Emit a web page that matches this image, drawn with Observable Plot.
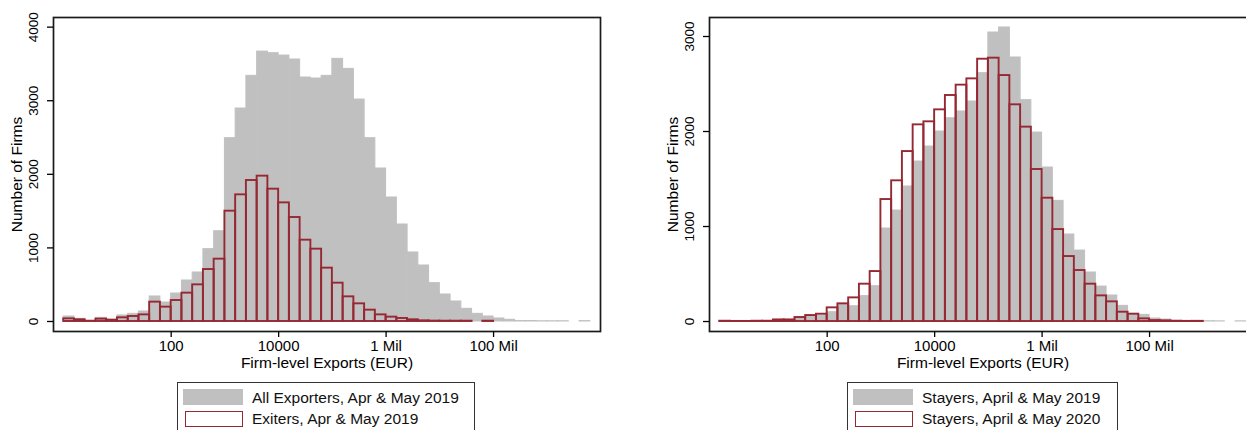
<!DOCTYPE html>
<html>
<head>
<meta charset="utf-8">
<script src="https://cdn.jsdelivr.net/npm/d3@7"></script>
<script src="https://cdn.jsdelivr.net/npm/@observablehq/plot@0.6"></script>
<style>
  html, body { margin: 0; padding: 0; background: #fff; overflow: hidden; width: 1246px; height: 430px; }
  #wrap { position: relative; width: 1246px; height: 430px; overflow: hidden; font-family: "Liberation Sans", Arial, sans-serif; }
  .panel { position: absolute; top: 0; }
  .legend { position: absolute; top: 382px; height: 70px; border: 1px solid #333; box-sizing: border-box; background: #fff; }
  .sw { position: absolute; box-sizing: border-box; }
  .lt { position: absolute; font-size: 15.5px; color: #111; line-height: 18px; white-space: nowrap; }
</style>
</head>
<body>
<div id="wrap"></div>
<script>
// Histogram bins: log10(EUR), first bin starts at 0, each bin 0.2 wide
const binStart = 0;
const binWidth = 0.2;

// Left panel: counts per bin
const allExporters2019 = [68, 36, 10, 50, 23, 82, 104, 136, 340, 258, 380, 557, 666, 983, 1227, 2491, 2894, 3338, 3668, 3646, 3614, 3560, 3315, 3302, 3338, 3569, 3433, 3016, 2491, 2079, 1685, 1318, 938, 761, 521, 367, 272, 172, 104, 68, 41, 23, 6, 6, 3, 3, 3, 0, 5];
const exiters2019 = [36, 23, 3, 32, 18, 50, 68, 90, 263, 195, 285, 385, 498, 706, 847, 1499, 1721, 1916, 1975, 1798, 1612, 1413, 1105, 983, 725, 521, 335, 240, 154, 90, 59, 41, 23, 9, 5, 4, 4, 4, 0, 4, 0, 0, 0, 0, 0, 0, 0, 0, 0];

// Right panel
const stayers2019 = [2, 1, 1, 2, 3, 10, 10, 32, 53, 63, 98, 186, 161, 267, 372, 979, 1168, 1421, 1684, 1842, 2000, 2140, 2211, 2316, 2614, 3042, 3095, 2779, 2330, 1989, 1621, 1270, 916, 747, 516, 368, 274, 165, 81, 70, 32, 21, 10, 7, 3, 3, 2, 0, 2];
const stayers2020 = [3, 1, 1, 3, 3, 17, 17, 42, 63, 77, 144, 186, 249, 393, 526, 1284, 1481, 1789, 2070, 2102, 2228, 2379, 2488, 2554, 2761, 2772, 2589, 2281, 2046, 1600, 1298, 968, 684, 537, 393, 270, 207, 98, 77, 28, 10, 7, 2, 1, 2, 0, 0, 0, 0];

// Axis ticks
const xTickValues = [2, 4, 6, 8];
const xTickLabels = ["100", "10000", "1 Mil", "100 Mil"];
const leftYTicks = [0, 1000, 2000, 3000, 4000];
const rightYTicks = [0, 1000, 2000, 3000];

const xTitle = "Firm-level Exports (EUR)";
const yTitle = "Number of Firms";
const leftLegend = ["All Exporters, Apr & May 2019", "Exiters, Apr & May 2019"];
const rightLegend = ["Stayers, April & May 2019", "Stayers, April & May 2020"];

const GRAY = "#c0c0c0";
const RED = "#962833";

function toBins(arr) {
  return arr.map((v, i) => ({x1: binStart + i * binWidth, x2: binStart + (i + 1) * binWidth, v}))
            .filter(d => d.v > 0);
}

function panel(gray, red, yDomain, yTicks) {
  return Plot.plot({
    width: 620,
    height: 372,
    marginLeft: 53,
    marginRight: 20,
    marginTop: 17,
    marginBottom: 41,
    style: {fontFamily: "'Liberation Sans', Arial, sans-serif", color: "#000", background: "transparent", overflow: "visible"},
    x: {domain: [-0.19, 9.99]},
    y: {domain: yDomain},
    marks: [
      Plot.rect(toBins(gray), {x1: "x1", x2: "x2", y1: 0, y2: "v", fill: GRAY, stroke: GRAY, strokeWidth: 1}),
      Plot.rect(toBins(red), {x1: "x1", x2: "x2", y1: 0, y2: "v", fill: "none", stroke: RED, strokeWidth: 1.9}),
      Plot.frame({stroke: "#1a1a1a", strokeWidth: 1.7}),
      Plot.axisX({ticks: xTickValues, tickFormat: d => xTickLabels[xTickValues.indexOf(d)], tickSize: 6, tickPadding: 9, lineAnchor: "middle", fontSize: 15, label: null, strokeWidth: 1.3}),
      Plot.axisY({ticks: yTicks, tickFormat: d => String(d), tickSize: 6, tickRotate: -90, tickPadding: 14, textAnchor: "middle", lineAnchor: "middle", fontSize: 13.5, label: null, strokeWidth: 1.3}),
      Plot.text([xTitle], {text: d => d, frameAnchor: "bottom", dy: 32, lineAnchor: "middle", fontSize: 15.5}),
      Plot.text([yTitle], {text: d => d, frameAnchor: "left", dx: -36, rotate: -90, lineAnchor: "middle", textAnchor: "middle", fontSize: 15.5})
    ]
  });
}

function legend(left, width, labels) {
  const box = document.createElement("div");
  box.className = "legend";
  box.style.left = left + "px";
  box.style.width = width + "px";
  const s1 = document.createElement("div");
  s1.className = "sw";
  Object.assign(s1.style, {left: "5px", top: "6px", width: "60px", height: "16px", background: GRAY});
  const s2 = document.createElement("div");
  s2.className = "sw";
  Object.assign(s2.style, {left: "7px", top: "28px", width: "58px", height: "16px", border: "1.6px solid " + RED, background: "#fff"});
  const t1 = document.createElement("div");
  t1.className = "lt"; t1.textContent = labels[0];
  Object.assign(t1.style, {left: "74px", top: "6px"});
  const t2 = document.createElement("div");
  t2.className = "lt"; t2.textContent = labels[1];
  Object.assign(t2.style, {left: "74px", top: "27px"});
  box.append(s1, s2, t1, t2);
  return box;
}

const wrap = document.getElementById("wrap");
const p1 = panel(allExporters2019, exiters2019, [-136, 4131], leftYTicks);
p1.classList.add("panel"); p1.style.left = "0px";
const p2 = panel(stayers2019, stayers2020, [-105, 3200], rightYTicks);
p2.classList.add("panel"); p2.style.left = "656px";
wrap.append(p1, p2);
wrap.append(legend(177, 298, leftLegend));
wrap.append(legend(847, 271, rightLegend));
</script>
</body>
</html>
